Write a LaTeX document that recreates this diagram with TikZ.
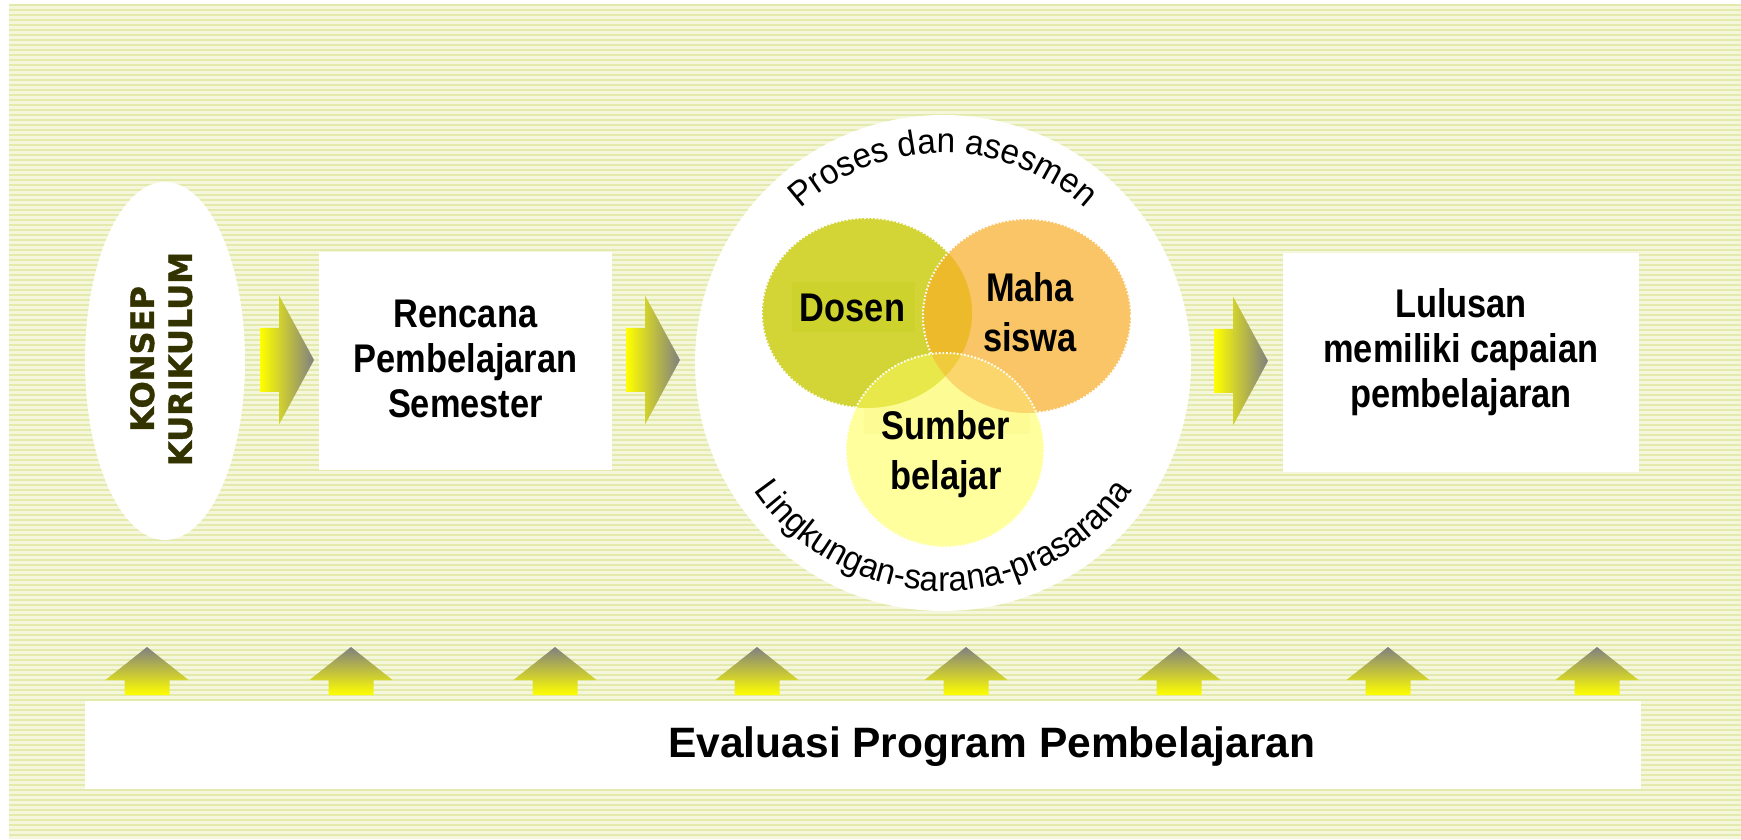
\documentclass[tikz,border=0pt]{standalone}
\usepackage{fontspec}
\setmainfont{Liberation Sans}
\newfontfamily\nbf[FakeStretch=0.86]{Liberation Sans Bold}
\newfontfamily\arcfont[FakeStretch=0.95]{Liberation Sans}
\newfontfamily\konsepfont[FakeBold=1.2]{DejaVu Sans Bold}
\usetikzlibrary{decorations.text}
\definecolor{bgA}{HTML}{F4F7DC}
\definecolor{bgB}{HTML}{E4EAAC}
\definecolor{dosenC}{HTML}{D3D435}
\definecolor{dosenR}{HTML}{CDD22D}
\definecolor{mahaC}{HTML}{F9C566}
\definecolor{dmC}{HTML}{EDBA2B}
\definecolor{sumberC}{HTML}{FFFF9E}
\definecolor{sumberR}{HTML}{FDFC94}
\definecolor{sdC}{HTML}{E8E84B}
\definecolor{smC}{HTML}{FAD66C}
\definecolor{sdmC}{HTML}{F0CC3C}
\definecolor{konsepC}{HTML}{333300}
\definecolor{agray}{HTML}{808080}
\tikzset{
  wbox/.style={fill=white, inner sep=0pt},
  boxtext/.style={font=\nbf\fontsize{40}{45}\selectfont, align=center, inner sep=0pt},
  venntext/.style={font=\nbf\fontsize{40}{50}\selectfont, align=center, inner sep=0pt},
  dotb/.style={draw=white, line width=2pt, dash pattern=on 1.6pt off 2pt},
  rarr/.pic={\shade[left color=yellow, right color=agray]
     (0,-32) -- (19,-32) -- (19,-64.5) -- (54,0) -- (19,64.5) -- (19,32) -- (0,32) -- cycle;},
  uarr/.pic={\shade[top color=agray, bottom color=yellow]
     (-22.5,-48) -- (22.5,-48) -- (22.5,-33) -- (41.5,-33) -- (0,0) -- (-41.5,-33) -- (-22.5,-33) -- cycle;}
}
\begin{document}
\begin{tikzpicture}[x=1pt,y=1pt]
\useasboundingbox (0,0) rectangle (1741,839);
% striped background
\fill[bgA] (9,0) rectangle (1741,835);
\foreach \i in {0,...,166} {
  \fill[bgB] (9,{835-5*\i}) rectangle (1741,{833-5*\i});
}
% concept ellipse
\fill[white] (165,478) ellipse[x radius=80pt, y radius=179pt];
\node[font=\konsepfont\fontsize{32}{38}\selectfont, text=konsepC, align=center, inner sep=0pt, rotate=90] (konsep) at (161.3,480) {KONSEP\\KURIKULUM};
% arrows right
\pic at (260,479) {rarr};
\pic at (626,479) {rarr};
\pic at (1214,478) {rarr};
% Rencana box
\node[wbox, minimum width=293pt, minimum height=218pt] (rps) at (465.5,478) {};
\node[boxtext] (rpst) at (465.5,480) {Rencana\\Pembelajaran\\Semester};
% Lulusan box
\node[wbox, minimum width=356pt, minimum height=219pt] (lulus) at (1461,476.5) {};
\node[boxtext] (lulust) at (1461,486.5) {Lulusan\\memiliki capaian\\pembelajaran};
% big circle
\fill[white] (943,476) circle[radius=248pt];
\path[decorate, decoration={text along path, text align=center,
  text={|\arcfont\fontsize{35}{40}\selectfont|Proses dan asesmen}}]
  (943,476) ++(150:210pt) arc[start angle=150, end angle=30, radius=210pt];
\path[decorate, decoration={text along path, text align=center,
  text={|\arcfont\fontsize{35}{40}\selectfont|Lingkungan-sarana-prasarana}}]
  (943,476) ++(200:228pt) arc[start angle=200, end angle=340, radius=228pt];
% Venn
\fill[dosenC] (867,526) ellipse[x radius=105pt, y radius=95pt];
\draw[dotb] (867,526) ellipse[x radius=105pt, y radius=95pt];
\fill[dosenR] (792,507) rectangle (915,557);
\fill[mahaC] (1027,523) ellipse[x radius=104pt, y radius=97pt];
\begin{scope}
  \clip (867,526) ellipse[x radius=105pt, y radius=95pt];
  \fill[dmC] (1027,523) ellipse[x radius=104pt, y radius=97pt];
\end{scope}
\draw[dotb] (1027,523) ellipse[x radius=104pt, y radius=97pt];
\fill[sumberC] (945,389) ellipse[x radius=99pt, y radius=97pt];
\begin{scope}
  \clip (945,389) ellipse[x radius=99pt, y radius=97pt];
  \fill[sumberR] (864,405) rectangle (1030,497);
  \fill[sdC] (867,526) ellipse[x radius=105pt, y radius=95pt];
  \fill[smC] (1027,523) ellipse[x radius=104pt, y radius=97pt];
  \clip (867,526) ellipse[x radius=105pt, y radius=95pt];
  \fill[sdmC] (1027,523) ellipse[x radius=104pt, y radius=97pt];
\end{scope}
\draw[dotb] (945,389) ellipse[x radius=99pt, y radius=97pt];
\node[venntext, anchor=base] (dosen) at (852.5,517) {Dosen};
\node[venntext] (maha) at (1030,526.6) {Maha\\siswa};
\node[venntext] (sumber) at (946,384.5) {Sumber\\belajar};
% up arrows
\foreach \x in {147,351,555,757,966,1179,1388,1597} {
  \pic at (\x,192) {uarr};
}
% evaluation box
\node[wbox, minimum width=1556pt, minimum height=88pt] (eval) at (863,94) {};
\node[font=\bfseries\fontsize{42.5}{50}\selectfont, inner sep=0pt, anchor=base] (evalt) at (992,81.5) {Evaluasi Program Pembelajaran};
\end{tikzpicture}
\end{document}
